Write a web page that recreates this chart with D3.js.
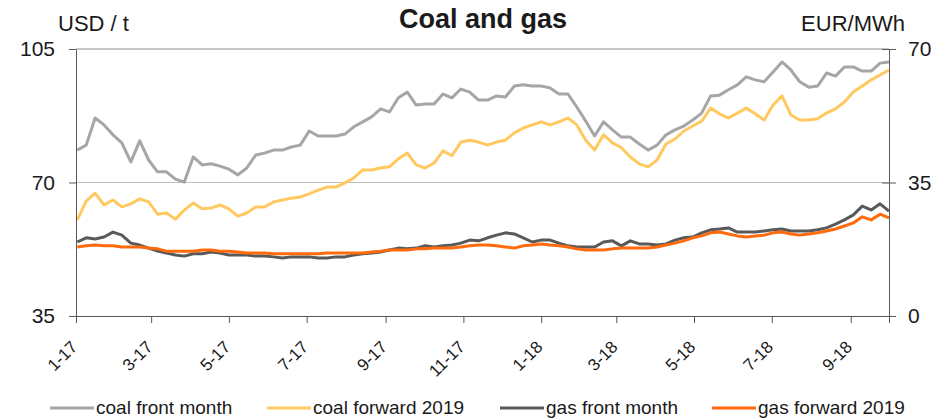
<!DOCTYPE html>
<html>
<head>
<meta charset="utf-8">
<script src="https://cdn.jsdelivr.net/npm/d3@7"></script>
<style>
	body { margin: 0; background: #fff; }
	svg text { font-family: "Liberation Sans", Arial, sans-serif; fill: #1a1a1a; }
</style>
</head>
<body>
<svg id="chart" width="947" height="419"></svg>
<script>
// weekly observations, Mondays from 2 Jan 2017
var startDate = new Date(2017, 0, 2);
var dates = d3.range(92).map(function(i) { return d3.timeDay.offset(startDate, 7 * i); });

// USD / t (left axis)
var coalFrontMonth = [
	78.5, 79.8, 86.9, 85.1, 82.5, 80.4, 75.4, 80.9, 75.9, 72.8,
	72.8, 70.9, 70.1, 76.7, 74.6, 74.9, 74.3, 73.5, 72.0, 73.8,
	77.2, 77.7, 78.5, 78.5, 79.3, 79.8, 83.5, 82.2, 82.2, 82.2,
	82.7, 84.6, 85.9, 87.2, 89.3, 88.5, 92.2, 93.7, 90.3, 90.6,
	90.6, 93.2, 92.2, 94.5, 93.7, 91.6, 91.6, 92.7, 92.4, 95.3,
	95.6, 95.3, 95.3, 94.8, 93.2, 93.2, 89.8, 86.1, 82.2, 85.9,
	83.8, 81.9, 81.9, 80.1, 78.5, 79.8, 82.5, 83.8, 84.8, 86.4,
	88.2, 92.7, 92.9, 94.3, 95.6, 97.7, 96.9, 96.4, 99.0, 101.6,
	99.5, 96.4, 95.0, 95.3, 98.7, 97.9, 100.3, 100.3, 99.2, 99.2,
	101.3, 101.6
];
var coalForward2019 = [
	60.2, 65.1, 67.2, 64.1, 65.4, 63.6, 64.4, 65.7, 64.9, 61.7,
	62.0, 60.4, 62.8, 64.6, 63.1, 63.3, 64.1, 63.1, 61.2, 62.0,
	63.6, 63.6, 64.9, 65.4, 65.9, 66.2, 67.0, 68.0, 68.8, 68.8,
	69.9, 71.2, 73.3, 73.3, 73.8, 74.1, 76.2, 77.7, 74.6, 73.8,
	75.1, 78.3, 77.0, 80.6, 81.1, 80.6, 79.8, 80.6, 81.1, 83.0,
	84.3, 85.1, 85.9, 85.1, 85.9, 86.9, 85.1, 81.1, 78.5, 82.5,
	80.4, 79.1, 76.7, 74.9, 74.1, 75.9, 80.1, 81.4, 83.5, 84.8,
	86.1, 89.5, 88.0, 86.9, 88.2, 89.5, 88.0, 86.4, 90.3, 92.7,
	87.7, 86.4, 86.4, 86.7, 88.2, 89.3, 91.1, 93.7, 95.3, 96.9,
	98.2, 99.5
];

// EUR/MWh (right axis)
var gasFrontMonth = [
	19.4, 20.5, 20.2, 20.7, 22.0, 21.2, 19.1, 18.6, 17.8, 17.0,
	16.5, 16.0, 15.7, 16.3, 16.3, 16.8, 16.5, 16.0, 16.0, 16.0,
	15.7, 15.7, 15.5, 15.2, 15.5, 15.5, 15.5, 15.2, 15.2, 15.5,
	15.5, 16.0, 16.3, 16.5, 16.8, 17.3, 17.8, 17.6, 17.8, 18.4,
	18.1, 18.4, 18.6, 19.1, 19.9, 19.7, 20.5, 21.2, 21.8, 21.5,
	20.5, 19.4, 19.9, 19.9, 19.1, 18.4, 18.1, 18.1, 18.1, 19.4,
	19.7, 18.4, 19.7, 18.9, 18.9, 18.6, 18.9, 19.9, 20.5, 20.7,
	21.8, 22.6, 22.8, 23.1, 22.0, 22.0, 22.0, 22.3, 22.6, 22.8,
	22.3, 22.3, 22.3, 22.6, 23.1, 24.1, 25.2, 26.5, 28.8, 27.8,
	29.4, 27.5
];
var gasForward2019 = [
	18.1, 18.4, 18.6, 18.4, 18.4, 18.1, 18.1, 18.1, 17.8, 17.6,
	17.0, 17.0, 17.0, 17.0, 17.3, 17.3, 17.0, 17.0, 16.8, 16.5,
	16.5, 16.5, 16.3, 16.3, 16.3, 16.3, 16.3, 16.3, 16.5, 16.5,
	16.5, 16.5, 16.5, 16.8, 17.0, 17.3, 17.3, 17.3, 17.6, 17.6,
	17.8, 17.8, 17.8, 18.1, 18.4, 18.6, 18.6, 18.4, 18.1, 17.8,
	18.4, 18.6, 18.9, 18.6, 18.4, 18.1, 17.6, 17.3, 17.3, 17.3,
	17.6, 17.8, 17.8, 17.8, 17.8, 18.1, 18.6, 19.1, 19.7, 20.5,
	21.0, 21.8, 22.0, 21.5, 21.0, 20.7, 21.0, 21.2, 21.8, 22.0,
	21.5, 21.2, 21.5, 21.8, 22.3, 22.8, 23.6, 24.4, 26.0, 25.2,
	26.7, 25.7
];

var leftTicks = [35, 70, 105];
var rightTicks = [0, 35, 70];
var seriesNames = ["coal front month", "coal forward 2019", "gas front month", "gas forward 2019"];
var seriesColors = ["#a6a6a6", "#ffc960", "#595959", "#ff6a0d"];

var margin = {top: 49, right: 58, bottom: 103, left: 76},
	width = 947 - margin.left - margin.right,
	height = 419 - margin.top - margin.bottom;

var x = d3.scaleTime()
	.domain([new Date(2017, 0, 1), new Date(2018, 9, 1)])
	.range([0, width]);
var yLeft = d3.scaleLinear().domain([35, 105]).range([height, 0]);
var yRight = d3.scaleLinear().domain([0, 70]).range([height, 0]);

var svg = d3.select("#chart");

svg.append("text")
	.attr("x", 483).attr("y", 28)
	.attr("text-anchor", "middle")
	.style("font-size", "27px").style("font-weight", "bold")
	.text("Coal and gas");
svg.append("text")
	.attr("x", 58).attr("y", 31)
	.style("font-size", "22px")
	.text("USD / t");
svg.append("text")
	.attr("x", 905).attr("y", 31)
	.attr("text-anchor", "end")
	.style("font-size", "22px")
	.text("EUR/MWh");

var g = svg.append("g")
	.attr("transform", "translate(" + margin.left + "," + margin.top + ")");

// gridlines
g.selectAll(".grid")
	.data([70, 105])
	.enter().append("line")
	.attr("x1", 0).attr("x2", width)
	.attr("y1", function(d) { return yLeft(d); })
	.attr("y2", function(d) { return yLeft(d); })
	.attr("stroke", function(d) { return d == 105 ? "#8c8c8c" : "#bfbfbf"; })
	.attr("stroke-width", 1);

var lines = [coalFrontMonth, coalForward2019, gasFrontMonth, gasForward2019];
lines.forEach(function(vals, k) {
	var yScale = k < 2 ? yLeft : yRight;
	var line = d3.line()
		.x(function(d, i) { return x(dates[i]); })
		.y(function(d) { return yScale(d); });
	g.append("path")
		.datum(vals)
		.attr("fill", "none")
		.attr("stroke", seriesColors[k])
		.attr("stroke-width", 3)
		.attr("stroke-linejoin", "round")
		.attr("d", line);
});

// axes
var xAxis = g.append("g")
	.attr("class", "axis axis--x")
	.attr("transform", "translate(0," + height + ")")
	.call(d3.axisBottom(x)
		.ticks(d3.timeMonth.every(2))
		.tickFormat(d3.timeFormat("%-m-%y"))
		.tickSizeOuter(0)
		.tickSize(7));
xAxis.selectAll("text")
	.style("font-size", "17px")
	.attr("text-anchor", "end")
	.attr("x", 0).attr("y", 0).attr("dy", 0)
	.attr("transform", "translate(2,32) rotate(-45)");

var leftAxis = g.append("g")
	.attr("class", "axis axis--y")
	.call(d3.axisLeft(yLeft).tickValues(leftTicks).tickSize(7).tickSizeOuter(0).tickPadding(14));
leftAxis.selectAll("text").style("font-size", "21px");

var rightAxis = g.append("g")
	.attr("class", "axis axis--y2")
	.attr("transform", "translate(" + width + ",0)")
	.call(d3.axisRight(yRight).tickValues(rightTicks).tickSize(7).tickSizeOuter(0).tickPadding(12));
rightAxis.selectAll("text").style("font-size", "21px");
rightAxis.selectAll(".tick line").attr("x1", -7);

svg.selectAll(".axis path, .axis line").attr("stroke", "#595959");

// legend
var legendX = [50, 267, 500, 712];
var legend = svg.append("g");
seriesNames.forEach(function(name, k) {
	legend.append("line")
		.attr("x1", legendX[k]).attr("x2", legendX[k] + 44)
		.attr("y1", 408).attr("y2", 408)
		.attr("stroke", seriesColors[k])
		.attr("stroke-width", 3);
	legend.append("text")
		.attr("x", legendX[k] + 46).attr("y", 414)
		.style("font-size", "19px")
		.text(name);
});
</script>
</body>
</html>
